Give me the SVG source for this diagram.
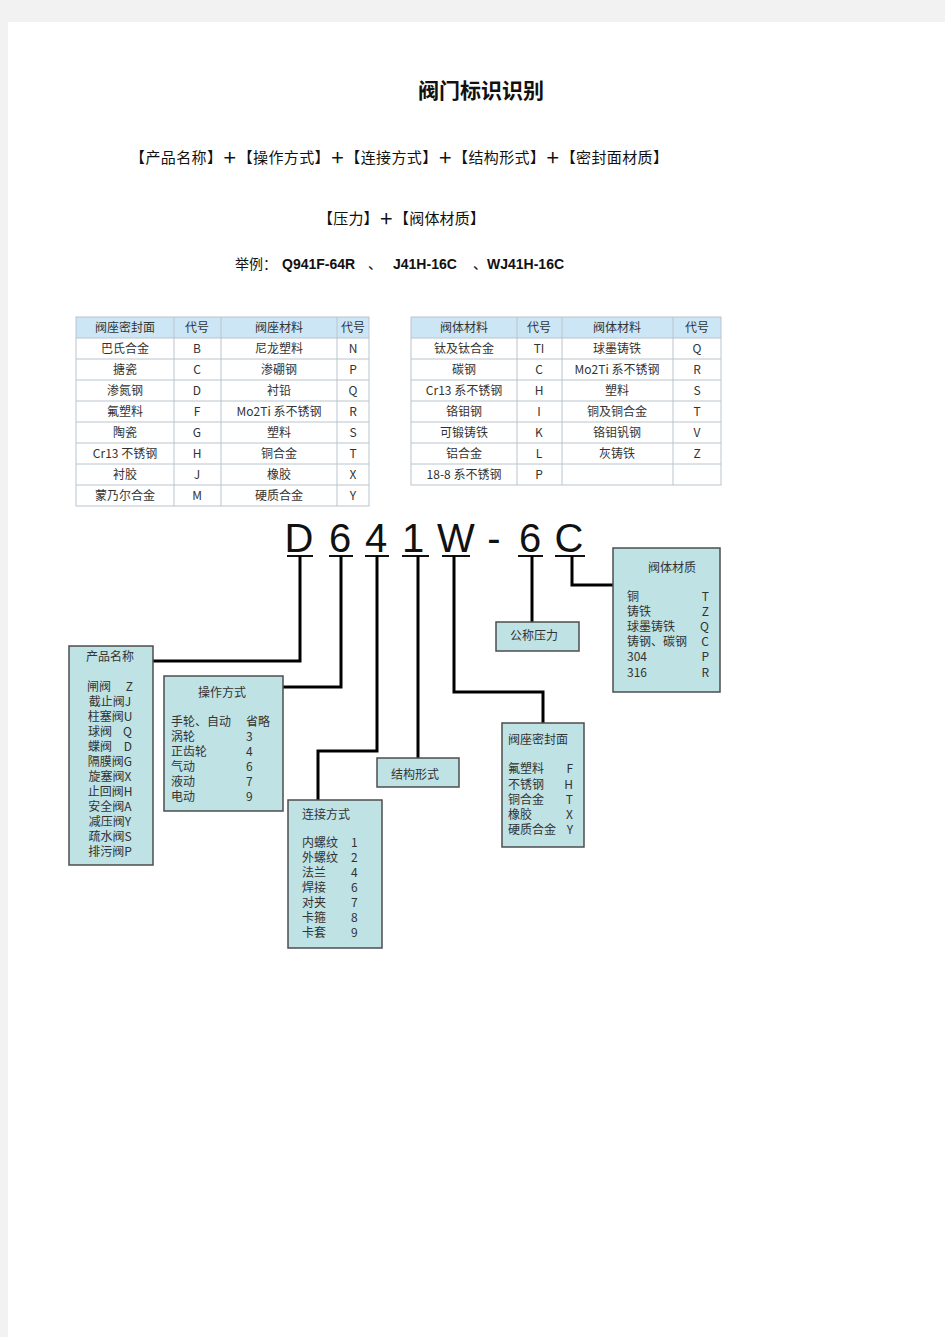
<svg xmlns="http://www.w3.org/2000/svg" width="945" height="1337" viewBox="0 0 945 1337">
<style>
.cjk{font-family:"Noto Sans CJK SC","Liberation Sans",sans-serif;}
.hd{font-size:15px;fill:#111;}
.tb{font-size:12px;fill:#333;font-family:"Noto Sans CJK SC","Liberation Sans",sans-serif;text-anchor:middle;}
.grid{stroke:#b8c4cc;stroke-width:1;fill:none;}
.box{fill:#bfe2e5;stroke:#4d4d4d;stroke-width:1.5;}
.bt{font-size:12px;fill:#333;font-family:"Noto Sans CJK SC","Liberation Sans",sans-serif;}
.code{font-family:"Liberation Sans",Arial,sans-serif;font-size:40px;fill:#111;text-anchor:middle;}
.ul{stroke:#111;stroke-width:2;}
.conn{stroke:#000;stroke-width:3;fill:none;}
</style>
<rect x="0" y="0" width="945" height="1337" fill="#f2f2f2"/>
<rect x="8" y="22" width="937" height="1315" fill="#ffffff"/>

<g id="header">
<text x="481" y="98" text-anchor="middle" class="cjk" font-size="21" font-weight="bold" fill="#111">阀门标识识别</text>
<text x="130" y="163" class="cjk hd" textLength="538" lengthAdjust="spacing">【产品名称】<tspan font-weight="bold">＋</tspan>【操作方式】<tspan font-weight="bold">＋</tspan>【连接方式】<tspan font-weight="bold">＋</tspan>【结构形式】<tspan font-weight="bold">＋</tspan>【密封面材质】</text>
<text x="318" y="224" class="cjk hd" textLength="167" lengthAdjust="spacing">【压力】<tspan font-weight="bold">＋</tspan>【阀体材质】</text>
<text x="235" y="269" class="cjk" font-size="14" fill="#111">举例：</text>
<text x="282" y="269" font-family="Liberation Sans,Arial,sans-serif" font-size="14" font-weight="bold" fill="#111">Q941F-64R</text>
<text x="368" y="269" class="cjk" font-size="14" fill="#111">、</text>
<text x="393" y="269" font-family="Liberation Sans,Arial,sans-serif" font-size="14" font-weight="bold" fill="#111">J41H-16C</text>
<text x="473" y="269" class="cjk" font-size="14" fill="#111">、</text>
<text x="487" y="269" font-family="Liberation Sans,Arial,sans-serif" font-size="14" font-weight="bold" fill="#111">WJ41H-16C</text>
</g>

<g id="table-seat">
<rect x="76" y="317" width="293" height="21" fill="#cde6f6"/>
<rect x="76" y="317" width="293" height="189" class="grid"/>
<path class="grid" d="M76 338H369M76 359H369M76 380H369M76 401H369M76 422H369M76 443H369M76 464H369M76 485H369M174 317V506M221 317V506M337 317V506"/>
<text class="tb" x="125" y="332">阀座密封面</text><text class="tb" x="197" y="332">代号</text><text class="tb" x="279" y="332">阀座材料</text><text class="tb" x="353" y="332">代号</text>
<text class="tb" x="125" y="353">巴氏合金</text><text class="tb" x="197" y="353">B</text><text class="tb" x="279" y="353">尼龙塑料</text><text class="tb" x="353" y="353">N</text>
<text class="tb" x="125" y="374">搪瓷</text><text class="tb" x="197" y="374">C</text><text class="tb" x="279" y="374">渗硼钢</text><text class="tb" x="353" y="374">P</text>
<text class="tb" x="125" y="395">渗氮钢</text><text class="tb" x="197" y="395">D</text><text class="tb" x="279" y="395">衬铅</text><text class="tb" x="353" y="395">Q</text>
<text class="tb" x="125" y="416">氟塑料</text><text class="tb" x="197" y="416">F</text><text class="tb" x="279" y="416">Mo2Ti 系不锈钢</text><text class="tb" x="353" y="416">R</text>
<text class="tb" x="125" y="437">陶瓷</text><text class="tb" x="197" y="437">G</text><text class="tb" x="279" y="437">塑料</text><text class="tb" x="353" y="437">S</text>
<text class="tb" x="125" y="458">Cr13 不锈钢</text><text class="tb" x="197" y="458">H</text><text class="tb" x="279" y="458">铜合金</text><text class="tb" x="353" y="458">T</text>
<text class="tb" x="125" y="479">衬胶</text><text class="tb" x="197" y="479">J</text><text class="tb" x="279" y="479">橡胶</text><text class="tb" x="353" y="479">X</text>
<text class="tb" x="125" y="500">蒙乃尔合金</text><text class="tb" x="197" y="500">M</text><text class="tb" x="279" y="500">硬质合金</text><text class="tb" x="353" y="500">Y</text>
</g>

<g id="table-body">
<rect x="411" y="317" width="310" height="21" fill="#cde6f6"/>
<rect x="411" y="317" width="310" height="168" class="grid"/>
<path class="grid" d="M411 338H721M411 359H721M411 380H721M411 401H721M411 422H721M411 443H721M411 464H721M517 317V485M562 317V485M673 317V485"/>
<text class="tb" x="464" y="332">阀体材料</text><text class="tb" x="539" y="332">代号</text><text class="tb" x="617" y="332">阀体材料</text><text class="tb" x="697" y="332">代号</text>
<text class="tb" x="464" y="353">钛及钛合金</text><text class="tb" x="539" y="353">TI</text><text class="tb" x="617" y="353">球墨铸铁</text><text class="tb" x="697" y="353">Q</text>
<text class="tb" x="464" y="374">碳钢</text><text class="tb" x="539" y="374">C</text><text class="tb" x="617" y="374">Mo2Ti 系不锈钢</text><text class="tb" x="697" y="374">R</text>
<text class="tb" x="464" y="395">Cr13 系不锈钢</text><text class="tb" x="539" y="395">H</text><text class="tb" x="617" y="395">塑料</text><text class="tb" x="697" y="395">S</text>
<text class="tb" x="464" y="416">铬钼钢</text><text class="tb" x="539" y="416">I</text><text class="tb" x="617" y="416">铜及铜合金</text><text class="tb" x="697" y="416">T</text>
<text class="tb" x="464" y="437">可锻铸铁</text><text class="tb" x="539" y="437">K</text><text class="tb" x="617" y="437">铬钼钒钢</text><text class="tb" x="697" y="437">V</text>
<text class="tb" x="464" y="458">铝合金</text><text class="tb" x="539" y="458">L</text><text class="tb" x="617" y="458">灰铸铁</text><text class="tb" x="697" y="458">Z</text>
<text class="tb" x="464" y="479">18-8 系不锈钢</text><text class="tb" x="539" y="479">P</text>
</g>

<g id="code">
<text class="code" x="299" y="552">D</text>
<text class="code" x="340" y="552">6</text>
<text class="code" x="376" y="552">4</text>
<text class="code" x="413" y="552">1</text>
<text class="code" x="456" y="552">W</text>
<text class="code" x="494" y="552">-</text>
<text class="code" x="530" y="552">6</text>
<text class="code" x="569" y="552">C</text>
<path class="ul" d="M287 556H313M329 556H353M365 556H389M402 556H429M442 556H470M518 556H543M555 556H585"/>
</g>

<g id="connectors">
<path class="conn" d="M300 556V661H153"/>
<path class="conn" d="M341 556V687H283"/>
<path class="conn" d="M377 556V751H318V800"/>
<path class="conn" d="M418 556V758"/>
<path class="conn" d="M454 556V692H543V723"/>
<path class="conn" d="M532 556V622"/>
<path class="conn" d="M572 556V585H613"/>
</g>

<g id="node-product">
<rect class="box" x="69" y="646" width="84" height="219"/>
<text class="bt" x="110" y="661" text-anchor="middle">产品名称</text>
<text class="bt" x="87" y="691">闸阀</text><text class="bt" x="133" y="691" text-anchor="end">Z</text>
<text class="bt" x="110" y="706" text-anchor="middle">截止阀J</text>
<text class="bt" x="110" y="721" text-anchor="middle">柱塞阀U</text>
<text class="bt" x="88" y="736">球阀</text><text class="bt" x="132" y="736" text-anchor="end">Q</text>
<text class="bt" x="88" y="751">蝶阀</text><text class="bt" x="132" y="751" text-anchor="end">D</text>
<text class="bt" x="110" y="766" text-anchor="middle">隔膜阀G</text>
<text class="bt" x="110" y="781" text-anchor="middle">旋塞阀X</text>
<text class="bt" x="110" y="796" text-anchor="middle">止回阀H</text>
<text class="bt" x="110" y="811" text-anchor="middle">安全阀A</text>
<text class="bt" x="110" y="826" text-anchor="middle">减压阀Y</text>
<text class="bt" x="110" y="841" text-anchor="middle">疏水阀S</text>
<text class="bt" x="110" y="856" text-anchor="middle">排污阀P</text>
</g>

<g id="node-operation">
<rect class="box" x="164" y="676" width="119" height="135"/>
<text class="bt" x="222" y="697" text-anchor="middle">操作方式</text>
<text class="bt" x="171" y="726">手轮、自动</text><text class="bt" x="246" y="726">省略</text>
<text class="bt" x="171" y="741">涡轮</text><text class="bt" x="246" y="741">3</text>
<text class="bt" x="171" y="756">正齿轮</text><text class="bt" x="246" y="756">4</text>
<text class="bt" x="171" y="771">气动</text><text class="bt" x="246" y="771">6</text>
<text class="bt" x="171" y="786">液动</text><text class="bt" x="246" y="786">7</text>
<text class="bt" x="171" y="801">电动</text><text class="bt" x="246" y="801">9</text>
</g>

<g id="node-connection">
<rect class="box" x="288" y="800" width="94" height="148"/>
<text class="bt" x="302" y="819">连接方式</text>
<text class="bt" x="302" y="847">内螺纹</text><text class="bt" x="351" y="847">1</text>
<text class="bt" x="302" y="862">外螺纹</text><text class="bt" x="351" y="862">2</text>
<text class="bt" x="302" y="877">法兰</text><text class="bt" x="351" y="877">4</text>
<text class="bt" x="302" y="892">焊接</text><text class="bt" x="351" y="892">6</text>
<text class="bt" x="302" y="907">对夹</text><text class="bt" x="351" y="907">7</text>
<text class="bt" x="302" y="922">卡箍</text><text class="bt" x="351" y="922">8</text>
<text class="bt" x="302" y="937">卡套</text><text class="bt" x="351" y="937">9</text>
</g>

<g id="node-structure">
<rect class="box" x="377" y="758" width="82" height="29"/>
<text class="bt" x="415" y="779" text-anchor="middle">结构形式</text>
</g>

<g id="node-seal">
<rect class="box" x="502" y="723" width="82" height="124"/>
<text class="bt" x="508" y="744">阀座密封面</text>
<text class="bt" x="508" y="773">氟塑料</text><text class="bt" x="573" y="773" text-anchor="end">F</text>
<text class="bt" x="508" y="789">不锈钢</text><text class="bt" x="573" y="789" text-anchor="end">H</text>
<text class="bt" x="508" y="804">铜合金</text><text class="bt" x="573" y="804" text-anchor="end">T</text>
<text class="bt" x="508" y="819">橡胶</text><text class="bt" x="573" y="819" text-anchor="end">X</text>
<text class="bt" x="508" y="834">硬质合金</text><text class="bt" x="573" y="834" text-anchor="end">Y</text>
</g>

<g id="node-pressure">
<rect class="box" x="496" y="622" width="83" height="29"/>
<text class="bt" x="534" y="640" text-anchor="middle">公称压力</text>
</g>

<g id="node-body">
<rect class="box" x="613" y="548" width="107" height="144"/>
<text class="bt" x="672" y="572" text-anchor="middle">阀体材质</text>
<text class="bt" x="627" y="601">铜</text><text class="bt" x="709" y="601" text-anchor="end">T</text>
<text class="bt" x="627" y="616">铸铁</text><text class="bt" x="709" y="616" text-anchor="end">Z</text>
<text class="bt" x="627" y="631">球墨铸铁</text><text class="bt" x="709" y="631" text-anchor="end">Q</text>
<text class="bt" x="627" y="646">铸钢、碳钢</text><text class="bt" x="709" y="646" text-anchor="end">C</text>
<text class="bt" x="627" y="661">304</text><text class="bt" x="709" y="661" text-anchor="end">P</text>
<text class="bt" x="627" y="677">316</text><text class="bt" x="709" y="677" text-anchor="end">R</text>
</g>
</svg>
